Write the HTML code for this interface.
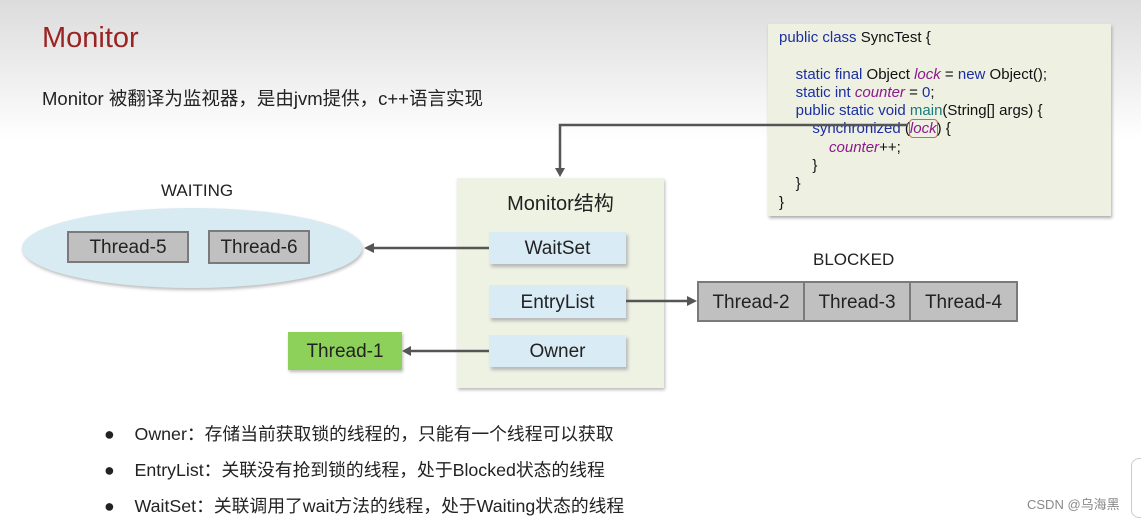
<!DOCTYPE html>
<html><head><meta charset="utf-8"><style>
*{margin:0;padding:0;box-sizing:border-box}
body{width:1141px;height:520px;overflow:hidden;position:relative;font-family:"Liberation Sans","Noto Sans CJK SC",sans-serif;background:linear-gradient(#dcdcdc 0px,#f2f2f2 90px,#fff 140px,#fff 520px);color:#222}
.a{position:absolute}
.box{position:absolute;display:flex;align-items:center;justify-content:center;font-size:19px;color:#222;padding-top:2px}
.g{background:#c0c0c0;border:2px solid #7a7a7a}
.b{background:#d9ebf5;box-shadow:2px 3px 3px #b8b8b8}
.code{font-size:15px;line-height:18.3px;white-space:pre;color:#111}
.k{color:#1c2fa0}.v{color:#8b1a8b;font-style:italic}.m{color:#1a7a7a}
</style></head><body>
<div class="a" style="left:42px;top:22px;font-size:29px;color:#9b2323">Monitor</div>
<div class="a" style="left:42px;top:85px;font-size:18.5px">Monitor 被翻译为监视器，是由jvm提供，c++语言实现</div>

<div class="a" style="left:768px;top:24px;width:343px;height:192px;background:#eef0e2;box-shadow:1px 2px 3px #aaa"></div>
<div class="a code" style="left:779px;top:29px"><span class="k">public class</span> SyncTest {

    <span class="k">static final</span> Object <span class="v">lock</span> = <span class="k">new</span> Object();
    <span class="k">static int</span> <span class="v">counter</span> = <span class="k">0</span>;
    <span class="k">public static void</span> <span class="m">main</span>(String[] args) {
        <span class="k">synchronized</span> (<span class="v" style="outline:1px solid #c07050;border-radius:3px">lock</span>) {
            <span class="v">counter</span>++;
        }
    }
}</div>

<div class="a" style="left:457px;top:178px;width:207px;height:210px;background:#eef2e2;box-shadow:1px 2px 3px #bbb"></div>
<div class="a" style="left:457px;top:187px;width:207px;text-align:center;font-size:20px">Monitor结构</div>
<div class="box b" style="left:489px;top:232px;width:137px;height:32px">WaitSet</div>
<div class="box b" style="left:489px;top:285px;width:137px;height:33px">EntryList</div>
<div class="box b" style="left:489px;top:335px;width:137px;height:32px">Owner</div>

<div class="a" style="left:161px;top:181px;font-size:17px">WAITING</div>
<div class="a" style="left:22px;top:208px;width:340px;height:80px;border-radius:50%;background:#d8eaf2;box-shadow:1px 2px 3px #bbb"></div>
<div class="box g" style="left:67px;top:231px;width:122px;height:32px">Thread-5</div>
<div class="box g" style="left:208px;top:230px;width:102px;height:34px">Thread-6</div>

<div class="box" style="left:288px;top:332px;width:114px;height:38px;background:#8dd15a;box-shadow:1px 2px 3px #bbb">Thread-1</div>

<div class="a" style="left:813px;top:250px;font-size:17px">BLOCKED</div>
<div class="box g" style="left:697px;top:281px;width:108px;height:41px">Thread-2</div>
<div class="box g" style="left:803px;top:281px;width:108px;height:41px">Thread-3</div>
<div class="box g" style="left:909px;top:281px;width:109px;height:41px">Thread-4</div>

<svg class="a" style="left:0;top:0" width="1141" height="520">
<g stroke="#555" stroke-width="2.5" fill="none">
<polyline points="908,125 560,125 560,170"/>
<line x1="489" y1="248" x2="372" y2="248"/>
<line x1="626" y1="301" x2="690" y2="301"/>
<line x1="489" y1="351" x2="410" y2="351"/>
</g>
<g fill="#555">
<polygon points="555,168 565,168 560,177"/>
<polygon points="364,248 374,243 374,253"/>
<polygon points="697,301 687,296 687,306"/>
<polygon points="402,351 411,346 411,356"/>
</g>
</svg>

<div class="a" style="left:104px;top:422px;font-size:17.8px;line-height:24px">
<div style="margin-bottom:12px">●&nbsp;&nbsp;&nbsp;&nbsp;Owner：存储当前获取锁的线程的，只能有一个线程可以获取</div>
<div style="margin-bottom:12px">●&nbsp;&nbsp;&nbsp;&nbsp;EntryList：关联没有抢到锁的线程，处于Blocked状态的线程</div>
<div>●&nbsp;&nbsp;&nbsp;&nbsp;WaitSet：关联调用了wait方法的线程，处于Waiting状态的线程</div>
</div>
<div class="a" style="left:1027px;top:494px;font-size:13px;color:#888">CSDN @乌海黑</div>
<div class="a" style="left:1131px;top:458px;width:30px;height:60px;border:1px solid #ccc;border-radius:8px;background:#fff"></div>
</body></html>
